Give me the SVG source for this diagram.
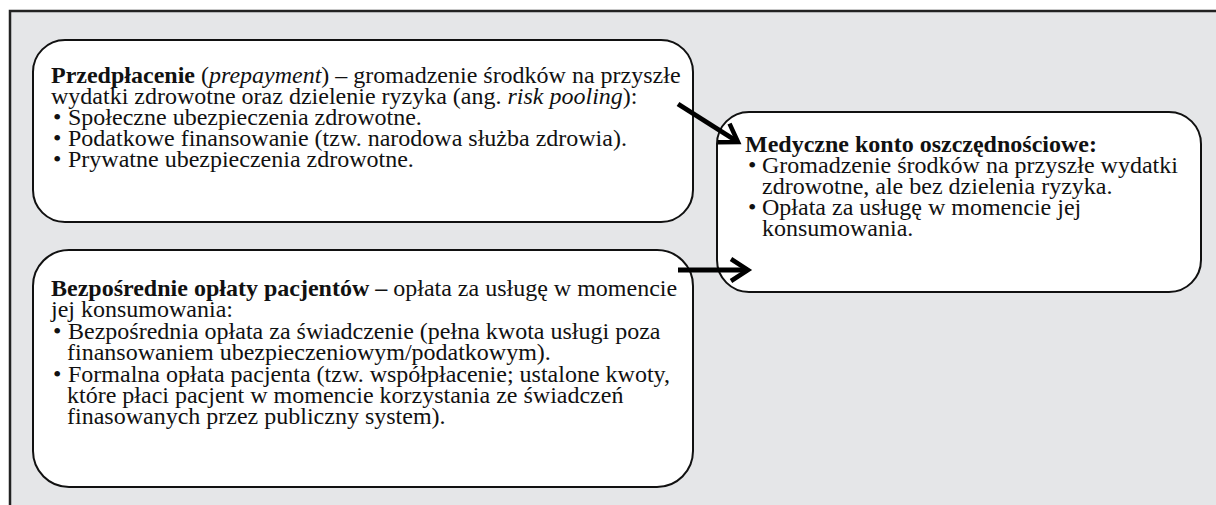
<svg xmlns="http://www.w3.org/2000/svg" width="1216" height="505" viewBox="0 0 1216 505">
<defs>
<style>
.frame{fill:#e5e6e8}
.edge{fill:none;stroke:#222;stroke-width:2.5}
.box{fill:#fff;stroke:#111;stroke-width:2}
.t{font-family:"Liberation Serif","Times New Roman",serif;font-size:24px;fill:#111}
.b{font-weight:bold}
.i{font-style:italic}
.conn{stroke:#000;stroke-width:5;fill:none}
</style>
<marker id="chev" markerUnits="userSpaceOnUse" markerWidth="40" markerHeight="40" viewBox="-25 -20 40 40" refX="0" refY="0" orient="auto">
<path d="M -17 -11 L 0 0 L -17 11" fill="none" stroke="#000" stroke-width="4.5" stroke-linejoin="miter"/>
</marker>
</defs>
<rect width="1216" height="505" fill="#ffffff"/>
<rect class="frame" x="10" y="11" width="1210" height="500"/>
<path class="edge" d="M 1220 11 L 10 11 L 10 510"/>

<g id="node-prepayment">
<rect class="box" x="33" y="40" width="660" height="182" rx="32" ry="32"/>
<text class="t">
<tspan x="51" y="83"><tspan class="b">Przedpłacenie</tspan> (<tspan class="i">prepayment</tspan>) – gromadzenie środków na przyszłe</tspan>
<tspan x="51" y="104">wydatki zdrowotne oraz dzielenie ryzyka (ang. <tspan class="i">risk pooling</tspan>):</tspan>
<tspan x="53" y="125">•</tspan><tspan x="68" y="125">Społeczne ubezpieczenia zdrowotne.</tspan>
<tspan x="53" y="146">•</tspan><tspan x="68" y="146">Podatkowe finansowanie (tzw. narodowa służba zdrowia).</tspan>
<tspan x="53" y="167">•</tspan><tspan x="68" y="167">Prywatne ubezpieczenia zdrowotne.</tspan>
</text>
</g>

<g id="node-oop">
<rect class="box" x="33" y="250" width="660" height="237" rx="36" ry="36"/>
<text class="t">
<tspan x="51" y="296"><tspan class="b">Bezpośrednie opłaty pacjentów –</tspan> opłata za usługę w momencie</tspan>
<tspan x="51" y="317">jej konsumowania:</tspan>
<tspan x="53" y="339">•</tspan><tspan x="68" y="339">Bezpośrednia opłata za świadczenie (pełna kwota usługi poza</tspan>
<tspan x="67" y="360">finansowaniem ubezpieczeniowym/podatkowym).</tspan>
<tspan x="53" y="382">•</tspan><tspan x="68" y="382">Formalna opłata pacjenta (tzw. współpłacenie; ustalone kwoty,</tspan>
<tspan x="67" y="403">które płaci pacjent w momencie korzystania ze świadczeń</tspan>
<tspan x="67" y="424">finasowanych przez publiczny system).</tspan>
</text>
</g>

<g id="node-msa">
<rect class="box" x="717" y="112" width="484" height="180" rx="32" ry="32"/>
<text class="t">
<tspan class="b" x="745" y="152">Medyczne konto oszczędnościowe:</tspan>
<tspan x="748" y="173">•</tspan><tspan x="762" y="173">Gromadzenie środków na przyszłe wydatki</tspan>
<tspan x="762" y="194">zdrowotne, ale bez dzielenia ryzyka.</tspan>
<tspan x="748" y="215">•</tspan><tspan x="762" y="215">Opłata za usługę w momencie jej</tspan>
<tspan x="762" y="236">konsumowania.</tspan>
</text>
</g>

<g id="connectors">
<line class="conn" x1="678" y1="104" x2="738" y2="142" marker-end="url(#chev)"/>
<line class="conn" x1="678" y1="270" x2="748" y2="270" marker-end="url(#chev)"/>
</g>
</svg>
